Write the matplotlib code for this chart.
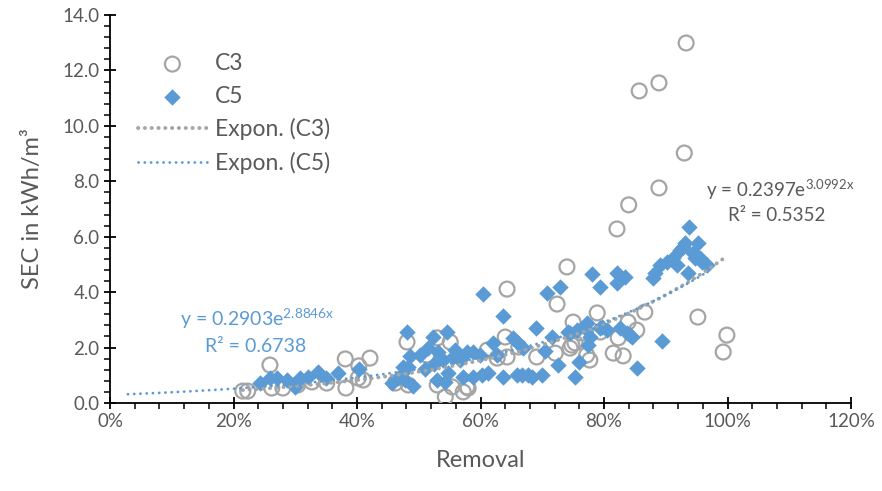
import numpy as np
import matplotlib.pyplot as plt
from matplotlib.ticker import MultipleLocator, FuncFormatter

# C3 (open circles): removal fraction, SEC in kWh/m3
c3_removal = [0.215, 0.223, 0.259, 0.262, 0.280, 0.304, 0.327, 0.351, 0.381, 0.382,
              0.403, 0.410, 0.402, 0.421, 0.462, 0.481, 0.483, 0.513, 0.530, 0.530,
              0.543, 0.551, 0.554, 0.578, 0.572, 0.580, 0.611, 0.627, 0.643, 0.640,
              0.643, 0.691, 0.724, 0.721, 0.740, 0.745, 0.750, 0.748, 0.753, 0.772,
              0.777, 0.789, 0.815, 0.823, 0.821, 0.831, 0.839, 0.840, 0.853, 0.857,
              0.866, 0.889, 0.889, 0.930, 0.933, 0.952, 0.993, 0.999, 0.794, 0.764,
              0.662]
c3_sec = [0.43, 0.43, 1.37, 0.54, 0.54, 0.65, 0.76, 0.72, 1.59, 0.54,
          1.34, 0.83, 0.90, 1.62, 0.72, 2.20, 0.65, 1.73, 2.35, 0.65,
          0.22, 2.20, 0.58, 0.58, 0.40, 0.54, 1.91, 1.62, 1.66, 2.38,
          4.11, 1.66, 3.57, 1.80, 4.91, 1.98, 2.92, 2.09, 2.17, 1.73,
          1.55, 3.25, 1.80, 2.35, 6.28, 1.70, 2.92, 7.15, 2.63, 11.26,
          3.28, 11.55, 7.76, 9.02, 12.99, 3.10, 1.84, 2.45, 2.56, 2.53,
          2.02]

# C5 (filled diamonds)
c5_removal = [0.243, 0.259, 0.270, 0.287, 0.300, 0.308, 0.321, 0.337, 0.350, 0.369,
              0.403, 0.457, 0.466, 0.481, 0.486, 0.502, 0.474, 0.483, 0.478, 0.491,
              0.510, 0.523, 0.546, 0.531, 0.539, 0.530, 0.543, 0.555, 0.547, 0.578,
              0.588, 0.599, 0.627, 0.572, 0.588, 0.602, 0.612, 0.604, 0.636, 0.620,
              0.653, 0.659, 0.669, 0.690, 0.704, 0.716, 0.708, 0.729, 0.636, 0.659,
              0.667, 0.677, 0.683, 0.700, 0.726, 0.760, 0.753, 0.745, 0.756, 0.769,
              0.777, 0.794, 0.805, 0.826, 0.837, 0.845, 0.853, 0.781, 0.794, 0.821,
              0.834, 0.821, 0.772, 0.774, 0.797, 0.842, 0.894, 0.883, 0.879, 0.891,
              0.902, 0.912, 0.918, 0.923, 0.931, 0.938, 0.944, 0.952, 0.955, 0.967,
              0.936, 0.567, 0.515, 0.525, 0.742, 0.559, 0.928, 0.947, 0.959]
c5_sec = [0.72, 0.90, 0.90, 0.83, 0.58, 0.90, 0.94, 1.12, 0.90, 1.08,
          1.23, 0.72, 0.90, 2.56, 1.70, 1.73, 1.30, 1.30, 0.83, 0.61,
          1.23, 2.38, 2.56, 1.84, 1.55, 0.83, 0.76, 1.66, 1.08, 1.84,
          1.84, 1.73, 1.73, 0.94, 0.94, 1.01, 1.08, 3.93, 3.14, 2.17,
          2.35, 2.20, 1.98, 2.71, 1.88, 2.38, 3.97, 4.19, 0.94, 1.01,
          1.01, 1.01, 0.94, 1.01, 1.37, 1.48, 0.94, 2.53, 2.63, 2.71,
          2.38, 2.71, 2.63, 2.71, 2.53, 2.38, 1.26, 4.66, 4.19, 4.69,
          4.55, 4.33, 2.89, 2.09, 2.74, 2.45, 2.24, 4.69, 4.51, 4.98,
          5.09, 5.23, 4.98, 5.52, 5.77, 6.35, 5.41, 5.77, 5.23, 4.98,
          4.69, 1.55, 1.98, 1.41, 2.56, 1.91, 5.63, 5.23, 5.09]

# exponential trendlines as shown on the chart
c3_a, c3_b = 0.2397, 3.0992
c5_a, c5_b = 0.2903, 2.8846
c3_range = (0.215, 0.999)
c5_range = (0.029, 0.967)

grey = '#A5A5A5'
blue = '#5B9BD5'
txt = '#595959'

plt.rcParams['font.family'] = ['Lato', 'DejaVu Sans']
plt.rcParams['mathtext.fontset'] = 'custom'
plt.rcParams['mathtext.rm'] = 'Lato'
plt.rcParams['mathtext.it'] = 'Lato'

fig = plt.figure(figsize=(8.82, 4.91), dpi=100)
ax = fig.add_axes([110 / 882, 88 / 491, 741 / 882, 388 / 491])

ax.scatter(c3_removal, c3_sec, s=115, facecolors='none', edgecolors=grey,
           linewidths=1.6, label='C3', zorder=3)
ax.scatter(c5_removal, c5_sec, s=70, marker='D', color=blue, linewidths=0,
           label='C5', zorder=4)

xs = np.linspace(*c3_range, 200)
ax.plot(xs, c3_a * np.exp(c3_b * xs), color=grey, lw=2.8, ls=(0, (0.05, 1.7)),
        dash_capstyle='round', label='Expon. (C3)', zorder=5)
xs = np.linspace(*c5_range, 200)
ax.plot(xs, c5_a * np.exp(c5_b * xs), color=blue, lw=2.0, ls=(0, (0.05, 2.2)),
        dash_capstyle='round', label='Expon. (C5)', zorder=5)

ax.set_xlim(0, 1.2)
ax.set_ylim(0, 14)
ax.xaxis.set_major_locator(MultipleLocator(0.2))
ax.xaxis.set_minor_locator(MultipleLocator(0.04))
ax.yaxis.set_major_locator(MultipleLocator(2))
ax.yaxis.set_minor_locator(MultipleLocator(0.4))
ax.xaxis.set_major_formatter(FuncFormatter(lambda v, p: f'{v * 100:.0f}%'))
ax.yaxis.set_major_formatter(FuncFormatter(lambda v, p: f'{v:.1f}'))

for s in ['top', 'right']:
    ax.spines[s].set_visible(False)
for s in ['left', 'bottom']:
    ax.spines[s].set_color('black')
    ax.spines[s].set_linewidth(1.3)
ax.tick_params(which='major', direction='inout', length=9, width=1.3,
               labelsize=13.5, labelcolor=txt, pad=3)
ax.tick_params(which='minor', direction='out', length=4, width=1.1)

ax.set_xlabel('Removal', fontsize=17, color=txt, labelpad=14)
ax.set_ylabel('SEC in kWh/m³', fontsize=17, color=txt, labelpad=14)

ax.text(0.113, 2.78, 'y = 0.2903e$^{2.8846x}$', color=blue, fontsize=14)
ax.text(0.154, 1.84, 'R² = 0.6738', color=blue, fontsize=14)
ax.text(0.965, 7.45, 'y = 0.2397e$^{3.0992x}$', color=txt, fontsize=13.5)
ax.text(1.000, 6.55, 'R² = 0.5352', color=txt, fontsize=13.5)

leg = ax.legend(loc='upper left', bbox_to_anchor=(0.01, 0.955), frameon=False,
                fontsize=16.5, labelcolor=txt, handlelength=3.0,
                handletextpad=0.35, labelspacing=0.5)

plt.savefig('out.png', dpi=100)
